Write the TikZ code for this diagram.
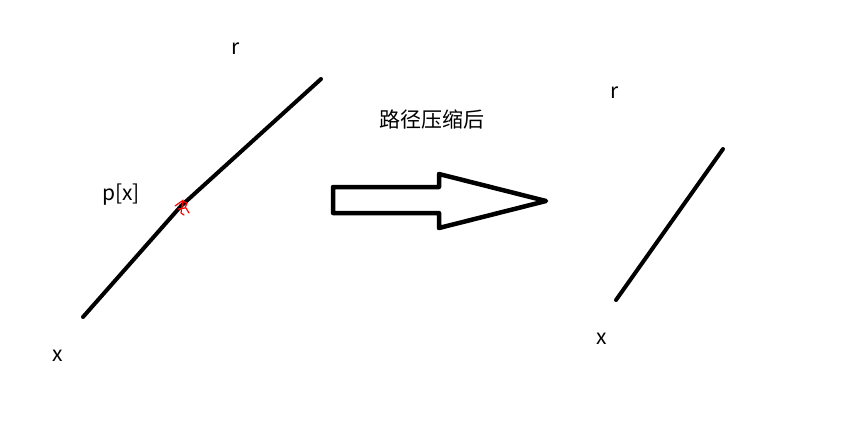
\documentclass[tikz,border=0pt]{standalone}
\usepackage{fontspec}
\setmainfont{Noto Sans CJK SC}
\begin{document}
\begin{tikzpicture}[x=1pt,y=-1pt,
  lbl/.style={font=\fontsize{21}{24}\selectfont, inner sep=0pt, text=black},
  stroke/.style={line width=4pt, line cap=round, line join=round, black},
  bigarrow/.style={line width=4.5pt, line join=round, black}]
\useasboundingbox (0,0) rectangle (853,421);
% left path
\coordinate (x1) at (83,317);
\coordinate (p1) at (181,206);
\coordinate (r1) at (321,79);
\draw[stroke] (x1) -- (p1) -- (r1);
% red mark
\draw[red, line width=1.2pt, line cap=round, line join=round]
  (175,206) -- (182,201) -- (187,203) -- (185,208) -- (178,209)
  (183,200) -- (181,213) -- (184,215)
  (186,208) -- (189,213);
% labels left
\node[lbl, anchor=base] (lr) at (236,54) {r};
\node[lbl, anchor=base] (lp) at (121,200) {p[x]};
\node[lbl, anchor=base] (lx) at (58,361) {x};
% big arrow
\coordinate (a1) at (333,187);
\coordinate (a2) at (439,187);
\coordinate (a3) at (439,174);
\coordinate (tip) at (546,201);
\coordinate (a5) at (439,228);
\coordinate (a6) at (439,213);
\coordinate (a7) at (333,213);
\draw[bigarrow] (a1) -- (a2) -- (a3) -- (tip) -- (a5) -- (a6) -- (a7) -- cycle;
\node[lbl] (cap) at (432,120) {路径压缩后};
% right path
\coordinate (x2) at (616,300);
\coordinate (r2) at (723,149);
\draw[stroke] (x2) -- (r2);
\node[lbl, anchor=base] (rr) at (615,98) {r};
\node[lbl, anchor=base] (rx) at (602,344) {x};
\end{tikzpicture}
\end{document}
